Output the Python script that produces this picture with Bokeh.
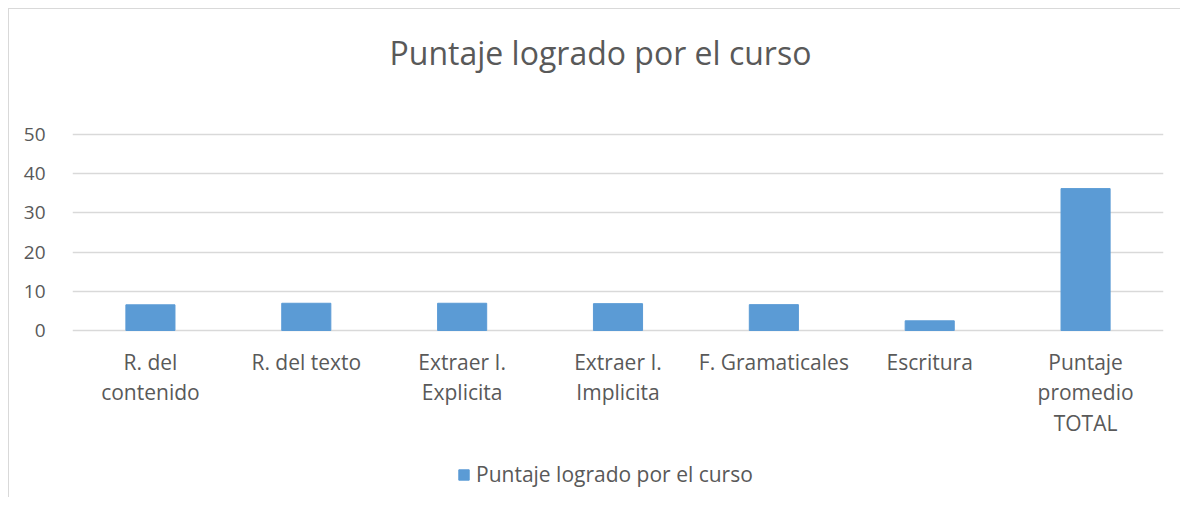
from bokeh.plotting import figure
from bokeh.models import ColumnDataSource, Legend, LegendItem, Range1d, FixedTicker, Label
from bokeh.core.properties import value
from bokeh.embed import file_html
from bokeh.resources import INLINE

categories = ["R. del\ncontenido", "R. del texto", "Extraer I.\nExplicita", "Extraer I.\nImplicita",
              "F. Gramaticales", "Escritura", "Puntaje\npromedio\nTOTAL"]
values = [6.55, 6.95, 6.95, 6.85, 6.6, 2.47, 36.2]
y_ticks = [0, 10, 20, 30, 40, 50]
series_name = "Puntaje logrado por el curso"
title_text = "Puntaje logrado por el curso"

FONT = "Open Sans"
TXT = "#595959"
GRID = "#d9d9d9"
BLUE = "#5b9bd5"

# frame covers the whole chart area: room above 50 for the title, below 0 for labels/legend
PX_PER_UNIT = 196 / 50.0
Y_MIN = -160 / PX_PER_UNIT
Y_MAX = 321 / PX_PER_UNIT

src = ColumnDataSource(dict(cat=categories, val=values, base=[0] * len(categories)))

p = figure(x_range=categories, y_range=Range1d(Y_MIN, Y_MAX), width=1172, height=489,
           output_backend="svg", toolbar_location=None,
           min_border_left=63, min_border_right=18, min_border_top=0, min_border_bottom=8)
p.styles = {"border-left": "1px solid #d9d9d9", "border-top": "1px solid #d9d9d9",
            "margin-left": "8px", "margin-top": "8px"}

r = p.vbar(x="cat", top="val", width=0.315, source=src, fill_color=BLUE, line_color=BLUE)

# category labels under the zero line
p.text(x="cat", y="base", text="cat", source=src, text_align="center", text_baseline="top",
       y_offset=17, text_font=value(FONT), text_font_size="21px", text_color=TXT,
       text_line_height=1.09)

title = Label(x=528, y=438, x_units="screen", y_units="screen", text=title_text,
              text_align="center", text_baseline="middle", text_font=FONT,
              text_font_size="32px", text_color=TXT)
p.add_layout(title)

p.outline_line_color = None
p.xgrid.grid_line_color = None
p.ygrid.grid_line_color = GRID
p.ygrid.grid_line_width = 1.5
p.ygrid.ticker = FixedTicker(ticks=y_ticks)

p.xaxis.visible = False

p.yaxis.ticker = FixedTicker(ticks=y_ticks)
p.yaxis.axis_line_color = None
p.yaxis.major_tick_line_color = None
p.yaxis.minor_tick_line_color = None
p.yaxis.major_label_standoff = 21
p.yaxis.major_label_text_font = FONT
p.yaxis.major_label_text_font_size = "19px"
p.yaxis.major_label_text_color = TXT

legend = Legend(items=[LegendItem(label=series_name, renderers=[r])],
                orientation="horizontal", location=(385, 2),
                label_text_font=FONT, label_text_font_size="21px", label_text_color=TXT,
                glyph_width=13, glyph_height=13, label_standoff=6,
                border_line_color=None, background_fill_alpha=0, margin=0, padding=4)
p.add_layout(legend)

open("out.html", "w").write(file_html(p, INLINE))
